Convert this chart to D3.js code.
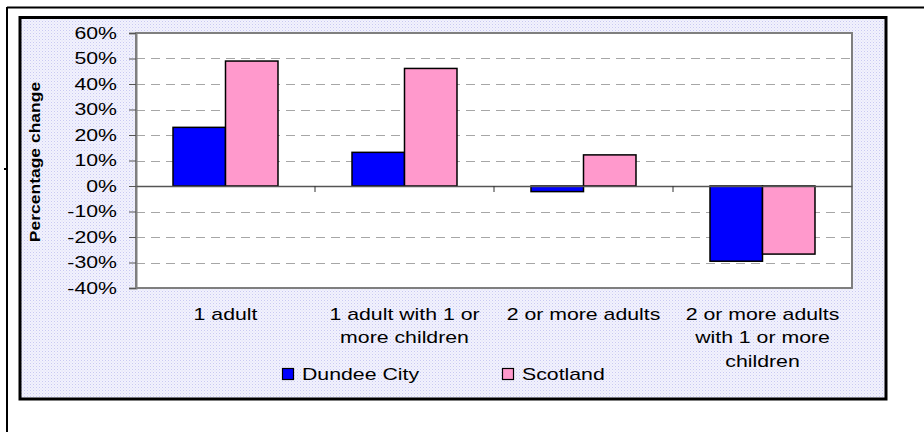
<!DOCTYPE html>
<html>
<head>
<meta charset="utf-8">
<script src="https://cdn.jsdelivr.net/npm/d3@7"></script>
<style>
  html, body { margin: 0; padding: 0; background: #fff; }
  svg { display: block; }
  text { font-family: "Liberation Sans", Arial, sans-serif; fill: #000; }
</style>
</head>
<body>
<svg id="chart" width="924" height="432"></svg>
<script>
// ---- data ----
const categories = ["1 adult", "1 adult with 1 or more children", "2 or more adults", "2 or more adults with 1 or more children"];
const categoryLines = [["1 adult"], ["1 adult with 1 or", "more children"], ["2 or more adults"], ["2 or more adults", "with 1 or more", "children"]];
const seriesNames = ["Dundee City", "Scotland"];
const dundeeCity = [23, 13.2, -2.2, -29.5];
const scotland = [49, 46.1, 12.2, -26.7];
const yTicks = [-40, -30, -20, -10, 0, 10, 20, 30, 40, 50, 60];
const colors = ["#0000FF", "#FF99CC"];
const yTitle = "Percentage change";

const SX = 1.33; // horizontal stretch of the original's text
const svg = d3.select("#chart");
const defs = svg.append("defs");
const pat = defs.append("pattern").attr("id", "dots").attr("patternUnits", "userSpaceOnUse")
  .attr("width", 3).attr("height", 3);
pat.append("rect").attr("width", 3).attr("height", 3).attr("fill", "#f2f2fd");
pat.append("rect").attr("x", 0).attr("y", 0).attr("width", 1).attr("height", 1).attr("fill", "#c9c9f2");
pat.append("rect").attr("x", 1.5).attr("y", 1.5).attr("width", 1).attr("height", 1).attr("fill", "#dcdcf7");

// outer frame lines
svg.append("line").attr("x1", 7).attr("x2", 924).attr("y1", 7.5).attr("y2", 7.5).attr("stroke", "#000").attr("stroke-width", 2);
svg.append("line").attr("x1", 7).attr("x2", 7).attr("y1", 7).attr("y2", 432).attr("stroke", "#000").attr("stroke-width", 2);
svg.append("rect").attr("x", 4).attr("y", 168).attr("width", 2).attr("height", 2).attr("fill", "#000");

// chart panel
svg.append("rect").attr("x", 20).attr("y", 17.5).attr("width", 866).attr("height", 381.5)
  .attr("fill", "url(#dots)").attr("stroke", "#000").attr("stroke-width", 3);

const plot = { left: 136, right: 852, top: 33, bottom: 288 };
const x = d3.scaleBand().domain(categories).range([plot.left, plot.right]).padding(0);
const xs = d3.scaleBand().domain(seriesNames).range([0, x.bandwidth()]).paddingInner(0).paddingOuter(0.705);
const y = d3.scaleLinear().domain([-40, 60]).range([plot.bottom, plot.top]);

// plot background
svg.append("rect").attr("x", plot.left).attr("y", plot.top)
  .attr("width", plot.right - plot.left).attr("height", plot.bottom - plot.top).attr("fill", "#fff");

// gridlines
svg.append("g").selectAll("line").data(yTicks.filter(t => t !== 0 && t !== -40 && t !== 60)).join("line")
  .attr("x1", plot.left).attr("x2", plot.right)
  .attr("y1", d => Math.round(y(d)) + 0.5).attr("y2", d => Math.round(y(d)) + 0.5)
  .attr("stroke", "#a6a6a6").attr("stroke-width", 1).attr("stroke-dasharray", "9,6");

// bars
const seriesData = [dundeeCity, scotland];
seriesData.forEach((vals, si) => {
  svg.append("g").selectAll("rect").data(vals).join("rect")
    .attr("x", (d, i) => x(categories[i]) + xs(seriesNames[si]))
    .attr("width", xs.bandwidth())
    .attr("y", d => y(Math.max(0, d)))
    .attr("height", d => Math.abs(y(d) - y(0)))
    .attr("fill", colors[si]).attr("stroke", "#000").attr("stroke-width", 1.5);
});

// plot border (grey)
svg.append("rect").attr("x", plot.left).attr("y", plot.top)
  .attr("width", plot.right - plot.left).attr("height", plot.bottom - plot.top)
  .attr("fill", "none").attr("stroke", "#7f7f7f").attr("stroke-width", 2);

// y axis
const yAxis = svg.append("g").attr("transform", `translate(${plot.left},0)`)
  .call(d3.axisLeft(y).tickValues(yTicks).tickSize(7).tickPadding(12).tickFormat(d => d + "%"));
yAxis.select(".domain").attr("stroke", "#7f7f7f").attr("stroke-width", 2);
yAxis.selectAll(".tick line").attr("stroke", "#555");
yAxis.selectAll(".tick text")
  .style("font-family", '"Liberation Sans", Arial, sans-serif').style("font-size", "16px").attr("fill", "#000")
  .attr("x", -19 / SX).attr("dy", "0.34em").attr("transform", `scale(${SX},1)`);

// zero line with category ticks
const xAxis = svg.append("g").attr("transform", `translate(0,${y(0)})`)
  .call(d3.axisBottom(x).tickSize(0).tickFormat(""));
xAxis.select(".domain").attr("stroke", "#555").attr("stroke-width", 1.5);
svg.append("g").selectAll("line").data(categories.slice(1)).join("line")
  .attr("x1", d => x(d)).attr("x2", d => x(d))
  .attr("y1", y(0)).attr("y2", y(0) + 6).attr("stroke", "#333").attr("stroke-width", 1);

// category labels
categories.forEach((c, i) => {
  const cx = x(c) + x.bandwidth() / 2;
  categoryLines[i].forEach((line, li) => {
    svg.append("text")
      .attr("transform", `translate(${cx},${319.5 + li * 23.5}) scale(${SX},1)`)
      .attr("text-anchor", "middle").style("font-size", "16px").text(line);
  });
});

// y title
svg.append("text")
  .attr("transform", `translate(40,162) rotate(-90) scale(1.25,1)`)
  .attr("text-anchor", "middle").style("font-size", "14px").style("font-weight", "bold").text(yTitle);

// legend
const legendX = [282, 502];
seriesNames.forEach((s, i) => {
  svg.append("rect").attr("x", legendX[i] + 0.5).attr("y", 368.5).attr("width", 11).attr("height", 11)
    .attr("fill", colors[i]).attr("stroke", "#000").attr("stroke-width", 1.2);
  svg.append("text").attr("transform", `translate(${legendX[i] + 20},380) scale(${SX},1)`)
    .style("font-size", "16px").text(s);
});
</script>
</body>
</html>
